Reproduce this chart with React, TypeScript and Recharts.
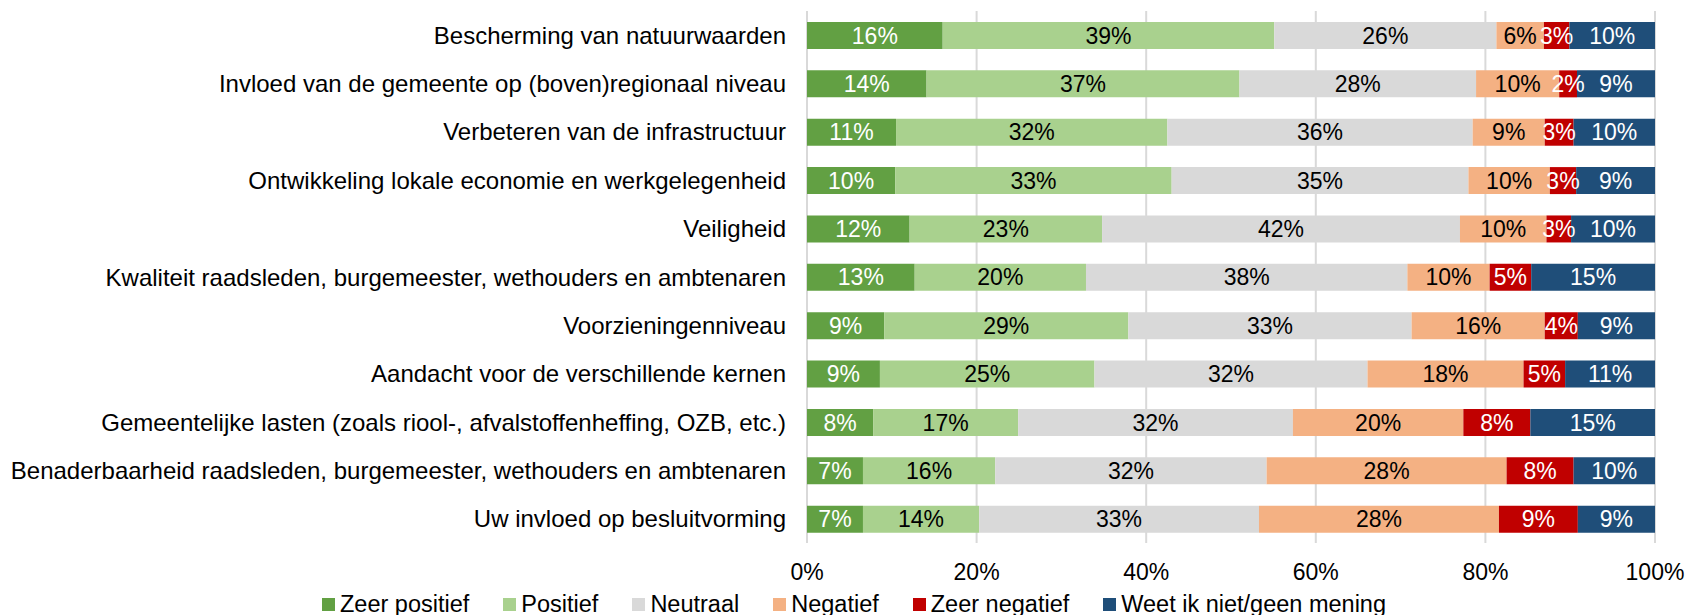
import { Bar, BarChart, CartesianGrid, LabelList, Legend, XAxis, YAxis } from 'recharts'

const CATEGORIES = [
  'Bescherming van natuurwaarden',
  'Invloed van de gemeente op (boven)regionaal niveau',
  'Verbeteren van de infrastructuur',
  'Ontwikkeling lokale economie en werkgelegenheid',
  'Veiligheid',
  'Kwaliteit raadsleden, burgemeester, wethouders en ambtenaren',
  'Voorzieningenniveau',
  'Aandacht voor de verschillende kernen',
  'Gemeentelijke lasten (zoals riool-, afvalstoffenheffing, OZB, etc.)',
  'Benaderbaarheid raadsleden, burgemeester, wethouders en ambtenaren',
  'Uw invloed op besluitvorming',
]

const ZEER_POSITIEF = [16.0, 14.1, 10.5, 10.4, 12.1, 12.7, 9.1, 8.6, 7.8, 6.6, 6.6]
const POSITIEF = [39.1, 36.9, 32.0, 32.6, 22.7, 20.2, 28.8, 25.3, 17.1, 15.6, 13.7]
const NEUTRAAL = [26.2, 27.9, 36.0, 35.0, 42.2, 37.9, 33.4, 32.2, 32.4, 32.0, 33.0]
const NEGATIEF = [5.6, 9.8, 8.5, 9.6, 10.2, 9.7, 15.7, 18.4, 20.1, 28.3, 28.3]
const ZEER_NEGATIEF = [3.0, 2.1, 3.4, 3.1, 2.9, 4.9, 3.9, 4.9, 7.9, 7.9, 9.3]
const WEET_NIET = [10.1, 9.2, 9.6, 9.3, 9.9, 14.6, 9.1, 10.6, 14.7, 9.6, 9.1]

const X_TICKS = [0, 20, 40, 60, 80, 100]

const SERIES = [
  { key: 'zp', name: 'Zeer positief', values: ZEER_POSITIEF, color: '#62a043', text: '#ffffff' },
  { key: 'p', name: 'Positief', values: POSITIEF, color: '#a9d18e', text: '#000000' },
  { key: 'n', name: 'Neutraal', values: NEUTRAAL, color: '#d9d9d9', text: '#000000' },
  { key: 'ng', name: 'Negatief', values: NEGATIEF, color: '#f4b183', text: '#000000' },
  { key: 'zn', name: 'Zeer negatief', values: ZEER_NEGATIEF, color: '#c00000', text: '#ffffff' },
  { key: 'w', name: 'Weet ik niet/geen mening', values: WEET_NIET, color: '#1f4e79', text: '#ffffff' },
]

const data = CATEGORIES.map((name, i) => {
  const row: Record<string, string | number> = { name }
  SERIES.forEach((s) => {
    row[s.key] = s.values[i]
  })
  return row
})

const pct = (v: unknown) => `${Math.round(Number(v))}%`

function LegendContent() {
  return (
    <div style={{ display: 'flex', alignItems: 'center', height: 30, paddingLeft: 322, fontSize: 23.5, lineHeight: '30px' }}>
      {SERIES.map((s) => (
        <div key={s.key} style={{ display: 'flex', alignItems: 'center', marginRight: 34 }}>
          <span style={{ width: 13, height: 13, background: s.color, marginRight: 5, display: 'inline-block' }} />
          <span style={{ color: '#000' }}>{s.name}</span>
        </div>
      ))}
    </div>
  )
}

export default function App() {
  return (
    <div style={{ position: 'absolute', left: 0, top: 0, fontFamily: '"Liberation Sans", Arial, sans-serif', background: '#fff' }}>
      <BarChart
        width={1689}
        height={619}
        data={data}
        layout="vertical"
        margin={{ top: 11, right: 34, left: 0, bottom: 0 }}
        barSize={27}
      >
        <CartesianGrid horizontal={false} stroke="#d9d9d9" strokeWidth={2} />
        <XAxis
          type="number"
          domain={[0, 100]}
          ticks={X_TICKS}
          tickFormatter={(v) => `${v}%`}
          axisLine={false}
          tickLine={false}
          tickSize={0}
          tickMargin={21}
          height={46}
          tick={{ fontSize: 23, fill: '#000' }}
          allowDataOverflow
        />
        <YAxis
          type="category"
          dataKey="name"
          width={807}
          axisLine={false}
          tickLine={false}
          tickSize={0}
          tickMargin={21}
          interval={0}
          tick={{ fontSize: 24, fill: '#000' }}
        />
        <Legend verticalAlign="bottom" content={<LegendContent />} wrapperStyle={{ left: 0, width: 1689 }} />
        {SERIES.map((s) => (
          <Bar key={s.key} dataKey={s.key} name={s.name} stackId="a" fill={s.color} isAnimationActive={false}>
            <LabelList dataKey={s.key} position="center" formatter={pct} fill={s.text} fontSize={23} />
          </Bar>
        ))}
      </BarChart>
    </div>
  )
}
